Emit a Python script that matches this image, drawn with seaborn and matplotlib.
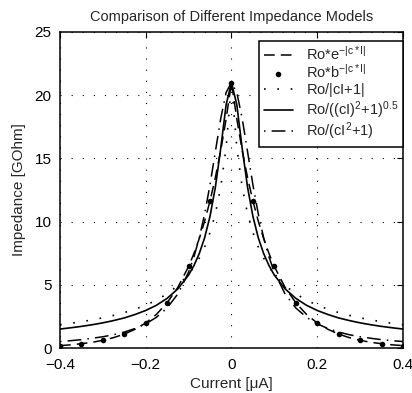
import matplotlib
matplotlib.use("Agg")
import matplotlib.pyplot as plt
import seaborn as sns
import pandas as pd

# Current sample points [uA]
current = [-0.4, -0.375, -0.35, -0.325, -0.3, -0.275, -0.25, -0.225, -0.2, -0.175,
           -0.15, -0.125, -0.1, -0.0875, -0.075, -0.0625, -0.05, -0.0375, -0.025, -0.0125,
           0.0,
           0.0125, 0.025, 0.0375, 0.05, 0.0625, 0.075, 0.0875, 0.1, 0.125,
           0.15, 0.175, 0.2, 0.225, 0.25, 0.275, 0.3, 0.325, 0.35, 0.375, 0.4]

# Impedance [GOhm] for each model
z_exp = [0.19, 0.25, 0.34, 0.45, 0.61, 0.82, 1.10, 1.48, 1.98, 2.66,
         3.58, 4.80, 6.45, 7.48, 8.67, 10.04, 11.64, 13.49, 15.63, 18.12,
         21.0,
         18.12, 15.63, 13.49, 11.64, 10.04, 8.67, 7.48, 6.45, 4.80,
         3.58, 2.66, 1.98, 1.48, 1.10, 0.82, 0.61, 0.45, 0.34, 0.25, 0.19]

z_abs = [1.84, 1.95, 2.08, 2.22, 2.39, 2.58, 2.80, 3.07, 3.39, 3.78,
         4.29, 4.94, 5.83, 6.41, 7.12, 8.00, 9.13, 10.63, 12.73, 15.85,
         21.0,
         15.85, 12.73, 10.63, 9.13, 8.00, 7.12, 6.41, 5.83, 4.94,
         4.29, 3.78, 3.39, 3.07, 2.80, 2.58, 2.39, 2.22, 2.08, 1.95, 1.84]

z_sqrt = [1.50, 1.60, 1.71, 1.84, 1.99, 2.17, 2.38, 2.65, 2.97, 3.38,
          3.93, 4.68, 5.77, 6.52, 7.48, 8.73, 10.42, 12.73, 15.80, 19.24,
          21.0,
          19.24, 15.80, 12.73, 10.42, 8.73, 7.48, 6.52, 5.77, 4.68,
          3.93, 3.38, 2.97, 2.65, 2.38, 2.17, 1.99, 1.84, 1.71, 1.60, 1.50]

z_lor = [0.51, 0.58, 0.66, 0.77, 0.89, 1.05, 1.26, 1.54, 1.91, 2.43,
         3.17, 4.28, 6.00, 7.21, 8.73, 10.62, 12.92, 15.54, 18.16, 20.21,
         21.0,
         20.21, 18.16, 15.54, 12.92, 10.62, 8.73, 7.21, 6.00, 4.28,
         3.17, 2.43, 1.91, 1.54, 1.26, 1.05, 0.89, 0.77, 0.66, 0.58, 0.51]

# Power-law model evaluated at coarser points
current_pts = [-0.4, -0.35, -0.3, -0.25, -0.2, -0.15, -0.1, -0.05, 0.0,
               0.05, 0.1, 0.15, 0.2, 0.25, 0.3, 0.35, 0.4]
z_pow = [0.19, 0.34, 0.61, 1.10, 1.98, 3.58, 6.45, 11.64, 21.0,
         11.64, 6.45, 3.58, 1.98, 1.10, 0.61, 0.34, 0.19]

x_ticks = [-0.4, -0.2, 0, 0.2, 0.4]
x_ticklabels = ["\u22120.4", "\u22120.2", "0", "0.2", "0.4"]
y_ticks = [0, 5, 10, 15, 20, 25]

# the empty superscript on the third label keeps all legend rows the same height
labels = [r"Ro*e$^{-|c*I|}$", r"Ro*b$^{-|c*I|}$", r"Ro/|cI+1|$^{\,}$",
          r"Ro/((cI)$^{2}$+1)$^{0.5}$", r"Ro/(cI$^{2}$+1)"]

sns.set_style("white")
plt.rcParams["font.family"] = ["Liberation Sans", "DejaVu Sans"]
plt.rcParams["mathtext.fontset"] = "custom"
plt.rcParams["mathtext.rm"] = "Liberation Sans"
plt.rcParams["mathtext.it"] = "Liberation Sans"
plt.rcParams["mathtext.bf"] = "Liberation Sans:bold"

fig = plt.figure(figsize=(4.12, 3.93), dpi=100)
ax = fig.add_axes([0.1456, 0.1145, 0.8324, 0.8041])

df = pd.DataFrame({"I": current, "exp": z_exp, "abs": z_abs,
                   "sqrt": z_sqrt, "lor": z_lor})
dfp = pd.DataFrame({"I": current_pts, "pow": z_pow})

sns.lineplot(data=df, x="I", y="exp", ax=ax, color="k", lw=1.1,
             linestyle=(0, (7, 4)), label=labels[0])
sns.scatterplot(data=dfp, x="I", y="pow", ax=ax, color="k", s=16,
                marker="o", edgecolor="k", linewidth=0, label=labels[1])
sns.lineplot(data=df, x="I", y="abs", ax=ax, color="k", lw=1.2,
             linestyle=(0, (1, 7)), label=labels[2])
sns.lineplot(data=df, x="I", y="sqrt", ax=ax, color="k", lw=1.2,
             linestyle="-", label=labels[3])
sns.lineplot(data=df, x="I", y="lor", ax=ax, color="k", lw=1.1,
             linestyle=(0, (1, 4, 9, 4)), label=labels[4])

ax.set_xlim(-0.4, 0.4)
ax.set_ylim(0, 25)
ax.set_xticks(x_ticks)
ax.set_xticklabels(x_ticklabels)
ax.set_yticks(y_ticks)
ax.tick_params(direction="in", length=4, width=0.8, top=True, right=True,
               labelsize=11, colors="k")
ax.tick_params(axis="x", pad=7)
ax.tick_params(axis="y", pad=6)
ax.grid(True, color="k", lw=0.8, linestyle=(0, (1, 9)))
for s in ax.spines.values():
    s.set_visible(True)
    s.set_color("k")
    s.set_linewidth(1.1)

ax.set_title("Comparison of Different Impedance Models", fontsize=10.5, pad=8)
ax.set_xlabel("Current [\u03bcA]", fontsize=11, labelpad=4)
ax.set_ylabel("Impedance [GOhm]", fontsize=11, labelpad=6)

leg = ax.legend(loc="upper right", bbox_to_anchor=(1.0, 0.972), borderaxespad=0,
                fontsize=10.5, frameon=True, fancybox=False, framealpha=1,
                edgecolor="k", handlelength=2.0, handletextpad=0.9,
                labelspacing=0.0, borderpad=0.3)
leg.get_frame().set_linewidth(1.1)

fig.savefig("out.png", dpi=100)
